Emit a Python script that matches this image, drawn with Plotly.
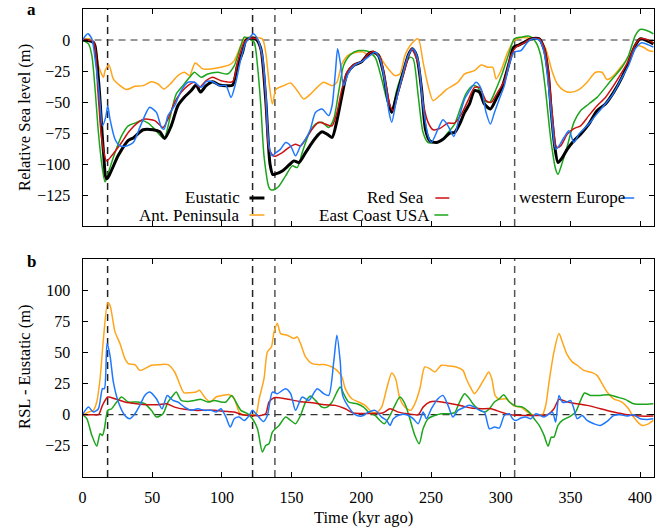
import plotly.graph_objects as go

# ---------------- data (panel a: relative sea level, m) ----------------
eus_t = [0, 4, 7.8, 9, 12, 15, 17.3, 25.7, 32.8, 36.4, 43.5, 50.6, 55.4, 58.9, 63.7, 68.4, 73.2, 78, 81.5,
         84.6, 88.7, 93.4, 98.2, 104, 107.7, 111.2, 114.8, 117.2, 120.7, 124.3, 127.9, 131.4, 134.5, 136.5,
         138.6, 143.3, 148, 151.6, 155.2, 160, 164.7, 169.5, 171.8, 175.4, 179, 182.5, 186.1, 189.7, 194.4,
         200.4, 205.1, 208.7, 212.3, 215.8, 219.4, 221.8, 225.3, 230.1, 233.6, 236.5, 239.6, 243.2, 246,
         249.1, 253.8, 258.6, 263.4, 266.9, 270.5, 274.1, 277.6, 281.2, 284.8, 288.3, 292.6, 296.7, 301.4,
         306.2, 309.3, 313.3, 316.9, 321.6, 327.6, 331.1, 334, 336.3, 338.7, 341.1, 344.2, 347.8, 352.5,
         357.3, 363.2, 369.1, 375.1, 381, 387, 391.7, 396.5, 400, 404.8, 409.5]
eus_v = [0, -0.5, -2, -5, -40, -90, -112, -93, -81, -79, -72.4, -72.4, -74, -79.4, -69, -53, -46, -40.8, -36.3,
         -42, -36.8, -33.6, -36.3, -36.8, -36.3, -20.6, -9.9, -0.4, 1.5, 0.9, -7, -47.6, -100, -108.5,
         -108, -105.6, -101, -97.5, -98.8, -90.8, -82.7, -75.9, -74, -75.9, -78.6, -65, -44.9, -27.4, -20.6,
         -17.4, -11.2, -9.8, -12.5, -26, -50.3, -58.4, -45, -26, -12.5, -7.1, -12.5, -39.5, -71.9,
         -81.3, -82.7, -80, -75.1, -74.6, -67.8, -58.4, -51.6, -40.8, -42.2, -51.6, -55.7, -47.6, -36.8,
         -17.9, -5.8, -3.9, -1.8, 0.9, 0.9, -7.1, -26, -58.4, -85.4, -98.8, -94.8, -88, -81.3,
         -75.9, -67.8, -57, -51.6, -42.2, -30.1, -17.9, -4.5, 0.9, -0.4, -3.1]

ant_t = [0, 5.5, 9, 11.4, 15, 16.2, 19, 22.1, 26.9, 31.6, 37.6, 43.5, 49.4, 54.2, 58.5, 63.7, 68.4, 73.2, 76.8,
         80.8, 86.3, 92.2, 99.3, 105.3, 108.9, 113.6, 117.2, 123.1, 129, 131.4, 133.8, 136.2, 138.6, 141,
         144.5, 149.3, 154, 158.8, 163.5, 168.3, 173, 179, 182.5, 186.1, 190.9, 196.8, 201.6, 205.1, 208.7,
         212.3, 215.8, 219.4, 224.1, 227.7, 231.3, 236, 240.8, 244.3, 247.9, 251.5, 256.2, 261, 265.7,
         269.3, 274.1, 277.6, 281.2, 286, 290.7, 294.3, 296.7, 300.2, 305, 309.7, 314.5, 321.6, 328.7,
         332.3, 337.1, 340.6, 345.4, 350.1, 356.1, 362, 368, 372.7, 376.3, 381, 387, 392.9, 397.7, 402.4,
         406, 409.5]
ant_v = [0, 0.9, -4.5, -20.6, -30.1, -24.7, -20.1, -31.4, -36.8, -40, -37.3, -36.8, -33.6, -35.5, -39.5, -34.6,
         -28.7, -26, -28.7, -18.5, -23.3, -23.3, -22, -20.1, -16.6, -4.5, 1.5, 2.3, 0.9, -9.8, -34.1, -51.6,
         -40, -38.2, -36.8, -34.6, -40.8, -47.6, -43.6, -38.2, -34.1, -36.8, -34.1, -19.3, -12, -9.8, -9.8,
         -12.5, -11.2, -11.2, -17.9, -23.3, -28.7, -27.4, -12.5, -3.1, 0.9, -17.9, -36.8, -48.9, -44.9, -40,
         -36.8, -34.1, -27.4, -26, -24.7, -20.1, -22, -22, -31.4, -24.7, -9.8, -0.4, 1.8, 1.5, -0.4, -7.1,
         -26, -35.5, -40.8, -42.2, -40, -34.1, -26, -26, -31.9, -28.7, -20.6, -12.5, -4.5, -5.8, -8.5, -9.3]

red_t = [0, 7.8, 10.9, 13.8, 17.3, 20.9, 28, 32.8, 39.9, 44.7, 51.8, 57.8, 61.3, 66.1, 70.8, 75.6, 80.2, 83.9,
         88.7, 93.4, 99.3, 107.7, 111.2, 116, 120.7, 125.5, 129, 131.4, 133.8, 137.4, 143.3, 148, 152.8,
         156.4, 160, 164.7, 169.5, 174.2, 179, 182.5, 186.1, 189.7, 194.4, 200.4, 205.1, 208.7, 213.4, 217,
         220.6, 223, 226.5, 231.3, 236, 240.8, 244.3, 247.9, 251.5, 256.2, 262.2, 266.9, 271.7, 276.5,
         281.2, 284.8, 289.5, 293.1, 297.8, 302.6, 307.3, 310.9, 316.9, 321.6, 327.6, 331.1, 334, 337.1,
         340.2, 343, 347.8, 352.5, 357.3, 363.2, 369.1, 375.1, 381, 387, 391.7, 396.5, 400, 404.8, 409.5]
red_v = [0, -1.2, -39.5, -80, -97.5, -93.4, -82.7, -74.6, -66.4, -63.8, -65, -70.5, -63.8, -50.3, -42.2, -36.8,
         -34.1, -38.2, -32.8, -30.1, -32.8, -33.6, -17.9, -1.8, 1.5, 0.4, -15.2, -47.6, -88, -93.8, -90.8,
         -86.7, -84, -85.4, -80, -71.9, -66.4, -67.8, -69.2, -58.4, -39.5, -26, -20.1, -17.4, -11.2, -9.3,
         -13.9, -31.4, -53, -57, -42.2, -23.3, -7.1, -19.3, -50.3, -66.4, -72.4, -71.4, -67, -67, -60,
         -48.9, -38.2, -38.2, -48.9, -50.3, -42.2, -32.8, -12.5, -5.8, -2.3, 0.9, 0.9, -5.8, -23.3, -61,
         -86.7, -85.4, -75.9, -71.4, -69.2, -61, -53, -46.3, -36.8, -26, -16.6, -3.9, 0.9, 0.4, -2.3]

ecu_t = [0, 0.7, 4.3, 6.7, 9, 11.4, 14.3, 16.2, 18.5, 23.3, 28, 32.8, 37.6, 42.3, 47.1, 51.8, 58.5, 62.5, 67.2,
         72, 76.8, 80.3, 85.1, 89.8, 97, 104, 108.9, 113.6, 116, 119.6, 123.1, 125.5, 127.9, 130.2, 133.8,
         135.5, 138, 141, 145.7, 150.5, 154, 157.6, 162.3, 167.1, 171.8, 176.6, 180.2, 183.7, 187.3, 192,
         198, 205.1, 209.9, 214.6, 218.2, 221.8, 225.3, 230.1, 234.8, 237.2, 240.8, 244.3, 247.9, 252.7,
         257.4, 262.2, 266.9, 271.7, 275.3, 280, 283.6, 288.3, 291.9, 296.7, 301.4, 306.2, 309.7, 314.5,
         320.4, 325.2, 328.7, 332.3, 335.9, 339.4, 341.1, 344.2, 347.8, 352.5, 357.3, 363.2, 369.1, 375.1,
         381, 387, 391.7, 396.5, 400, 404.8, 409.5]
ecu_v = [0, -0.4, -3.1, -12.5, -39.5, -74.6, -104, -114.5, -107, -90.8, -77.3, -69.2, -67, -65, -67, -71.9,
         -79.4, -63.8, -43.6, -36.8, -30.1, -26, -30.1, -27.4, -26, -27.4, -20.6, -4.5, 2.3, 0.9, -1.8,
         -20.6, -53, -93.4, -119, -121, -120.4, -117.7, -109.6, -101.5, -102.9, -90.8, -75.9, -67.8, -66.4,
         -70.5, -63.8, -42.2, -20.6, -12, -8.5, -9.3, -13.9, -31.4, -47.6, -57, -40.9, -24.7, -13.9, -15.2,
         -44.9, -74.6, -82.7, -82.7, -81.3, -74.6, -67.8, -53, -42.8, -36.8, -38.2, -48.9, -50.3, -39.5,
         -26, -9.8, 0.9, 2.3, 3.1, -1.8, -12.5, -42.2, -80, -104.2, -108.3, -98.8, -85.4, -66.4, -57, -51.6,
         -46.3, -38.2, -30.1, -22, -12.5, 3.6, 8.5, 7.7, 5]

weu_t = [0, 3.8, 6.7, 9, 11.9, 14.3, 16.6, 18.1, 19.7, 23.3, 26.9, 31.6, 36.4, 41.1, 44.7, 48.2, 53, 56.6, 58.5,
         61.3, 66.1, 70.8, 75.6, 80.3, 85.1, 88.7, 93.4, 98.2, 102.9, 106.5, 110, 113.6, 117.2, 120.7, 122.6,
         125.5, 129, 131.4, 133.8, 136.2, 138.6, 142.1, 145.7, 149.3, 152.8, 156.4, 160, 163.5, 167.1, 171.8,
         176.6, 179, 181.4, 183, 184.9, 187.3, 190.9, 195.6, 201.6, 206.3, 209.9, 213.4, 217, 219.9, 221.8,
         225.3, 230.1, 233.6, 237.2, 240.8, 244.3, 247.9, 250.3, 255, 258.6, 262.2, 266.4, 270.5, 274.1,
         276.5, 282.4, 286, 289.5, 292.6, 295.5, 299, 302.6, 306.2, 309.7, 314.5, 319.2, 322.8, 327.6, 331.1,
         334, 337.1, 339.4, 341.8, 345.4, 349, 352.5, 356.1, 362, 368, 373.9, 379.8, 385.8, 391.7, 396.5,
         401.2, 406, 409.5]
weu_v = [0, 5, 0.9, -15.2, -42.2, -69.2, -62.4, -53, -63.8, -80, -85.4, -85.4, -82.7, -70.5, -61, -54.3, -58.4,
         -70.5, -71.9, -61, -53, -40.8, -34.1, -34.1, -38.2, -33.6, -33.6, -36.8, -36.8, -46.3, -34.1, -15.2,
         -1.8, 3.1, 5, 0.9, -12.5, -42.2, -85.4, -93.4, -91, -88, -82.7, -85.4, -93.4, -85.4, -80, -71.9,
         -58.4, -55.7, -61, -53, -26, -7.1, -17.9, -36.8, -26, -20.1, -16.6, -12.5, -9.8, -15.2, -34.1,
         -58.4, -66.4, -47.6, -26, -12.5, -7.1, -16.6, -53, -77.3, -82.7, -71.9, -64.4, -69.2, -77.8, -61,
         -47.6, -42.8, -34.1, -39.5, -58.4, -67.8, -58.4, -47.6, -36.8, -19.3, -9.8, -8.5, -1.8, 0.9, 0.1,
         -9.8, -34.1, -69.2, -88, -85.4, -78.6, -73.2, -82.7, -75.9, -69.2, -61, -53, -44.9, -32.8, -20.6,
         -7.1, -2.3, -3.9, -5.8]

# ---------------- data (panel b: RSL - Eustatic, m) ----------------
d_ant_t = [0, 4.3, 7.8, 10.2, 12.6, 15, 18.1, 19.7, 23.3, 26.9, 30.4, 32.8, 37.6, 41.1, 44.7, 49.4, 55.4, 61.3,
           66.1, 69.6, 72.7, 76.8, 81.5, 83.9, 87.5, 91.7, 95.8, 100.5, 105.3, 108.9, 112.4, 114.8, 120.7, 124.3,
           126.7, 130.2, 132.6, 135.5, 137.4, 139.8, 142.1, 146.9, 151.6, 154, 156.4, 160, 164.7, 169.5, 174.2,
           179, 182.5, 186.1, 188.5, 193.2, 198, 202.7, 207.5, 211.1, 214.6, 218.2, 221.8, 224.6, 227.7, 231.3,
           235.5, 238.4, 242, 245.5, 249.1, 252.7, 257.4, 262.2, 268.1, 272.9, 275.3, 278.8, 281.2, 284.8,
           288.3, 291.4, 293.6, 296, 299, 303.8, 309.7, 314.5, 319.2, 322.8, 329.9, 332.3, 334.7, 338.2, 341.8,
           344.2, 347.3, 351.3, 354.9, 359.6, 365.6, 369.1, 372.7, 376.3, 381, 387, 391.7, 395.3, 401.2, 406,
           409.5]
d_ant_v = [0, 2.1, 3.5, 10.2, 28.9, 61, 90, 88, 66.5, 57, 45, 41, 40.2, 35.6, 37, 39.7, 40.2, 40.2,
           34.3, 24.9, 17.7, 17.7, 18.2, 19.6, 14.2, 10.2, 14.2, 15.5, 16.1, 12.8, 2.1, 0, 0, 0,
           12.8, 28.9, 50.4, 54.4, 66.5, 73.2, 65.1, 63.8, 61.1, 62.5, 57.1, 46.4, 41, 40.2, 40.2,
           38.3, 35.6, 30.3, 20.9, 12.8, 10.2, 7.5, 2.1, 2.1, 6.1, 20.9, 33.5, 28.9, 12.8, 6.1,
           3.5, 8.8, 20.9, 38.3, 37, 34.3, 39.7, 39.2, 38.3, 35.6, 28.9, 20.9, 16.9, 22.2,
           28.9, 34.3, 28.9, 15.5, 12.3, 12.8, 6.9, 6.1, 2.1, 0, 0, 7.5, 26.3, 50.4, 65.1,
           58.4, 49, 42.4, 39.7, 35.6, 33.8, 31.6, 24.9, 18.2, 12.8, 10.2, 4.8, -1.9, -8.6, -7.3,
           -4.6]

d_red_t = [0, 6.7, 11.4, 14.3, 18.1, 23.3, 30.4, 38.7, 47.1, 54.2, 60.1, 66.1, 73.2, 80.3, 87.5, 94.6, 101.7,
           108.9, 114.8, 120.7, 127.9, 131.4, 133.8, 137.4, 145.7, 155.2, 164.7, 174.2, 181.4, 188.5, 194.4,
           202.7, 209.9, 215.8, 220.6, 226.5, 233.6, 240.8, 244.3, 249.1, 255, 264.5, 271.7, 278.8, 286,
           293.1, 300.2, 307.3, 316.9, 326.5, 333.5, 338.2, 341.8, 347.8, 354.9, 362, 371.5, 381, 390.5, 400,
           409.5]
d_red_v = [0, 0, 0, 7.5, 14.2, 12.8, 10.2, 8.8, 8, 8, 8.8, 6.1, 4.3, 3.5, 3.5, 3.5, 2.7,
           2.1, 0, -0.6, -0.6, 0.8, 10.2, 13.6, 12.8, 10.7, 9.6, 8, 7.5, 4.8, 1.3,
           1, 1, 1.6, 4.8, 2.1, 0.8, 0, 6.1, 10.2, 10.7, 8.8, 7.2, 5.3, 4.8,
           4.8, 2.1, 0, -0.6, -0.6, 0, 4.8, 12.3, 10.2, 8.8, 7.5, 4.8, 2.1, 0, -1.1,
           -1.1]

d_ecu_t = [0, 0.7, 3.1, 6.7, 10.2, 12.6, 14.3, 15.7, 18.1, 20.9, 24.5, 28, 32.8, 38.7, 44.7, 49.4, 53, 57.8,
           61.3, 64.9, 67.2, 70.8, 75.6, 80.3, 85.1, 89.8, 94.6, 99.3, 102.9, 107, 110, 113.6, 118.4, 121.9,
           125.5, 129, 131.4, 133.8, 136.2, 141, 145.7, 149.3, 152.8, 156.4, 160, 163.5, 167.1, 171.8, 175.4,
           179, 182.5, 184.9, 187.3, 190.9, 196.8, 201.6, 205.1, 209.9, 213.4, 216.5, 220.6, 224.1, 227.7,
           231.3, 234.8, 238.4, 241.5, 244.3, 247.9, 252.7, 257.4, 262.2, 266.9, 270.5, 274.1, 277.6, 280,
           283.6, 288.3, 291.9, 295.5, 299, 302.1, 306.2, 310.9, 315.7, 320.4, 324, 327.6, 331.1, 334, 336.3,
           338.2, 341.1, 344.2, 350.1, 353.7, 357.3, 360.1, 364.4, 371.5, 377.5, 383.4, 389.3, 395.3, 402.4,
           409.5]
d_ecu_v = [0, -0.6, -3.2, -16.6, -25.2, -15.3, -16.6, -11.3, 3.5, 4.8, 10.2, 14.2, 10.2, 10.2, 8.8, 3.5, -1.9, 0.8,
           10.2, 15.5, 18.2, 11.5, 10.7, 11.5, 12.3, 10.2, 11.5, 10.2, 10.2, 15.5, 10.2, 3.5, 0.8, -3.2,
           -11.3, -30, -24.7, -23.3, -13.9, -8.6, -1.9, -4.6, -7.2, -0.6, 10.2, 15, 11.5, 6.1, 6.1,
           10.2, 18.2, 22.2, 16.9, 10.2, 8.8, 6.1, 2.1, -0.6, -4.6, -7.2, -0.6, 7.5, 14.2,
           8.8, -3.2, -16.6, -23.3, -11.3, -3.2, -0.6, 0.8, 0.8, 1.6, 10.2, 16.9, 12.8, 8.8,
           4.8, 2.1, 4.8, 10.2, 12.8, 16.1, 10.2, 6.9, 6.1, 2.1, -3.2, -8.6, -16.6, -25.2, -18,
           -18, -8.6, -4.6, -1.1, 2.1, 11.5, 17.4, 15.5, 15.5, 16.1, 14.2, 12.3, 8.8, 8.3,
           8.8]

d_weu_t = [0, 4.3, 7.8, 11.4, 14.3, 15.7, 17.6, 19.7, 22.1, 25.7, 30.4, 34, 37.6, 41.1, 44.7, 48.2, 53, 57, 60.8,
           64.9, 68.4, 73.2, 78, 82.7, 87.5, 92.2, 95.8, 99.3, 102.9, 106, 108.9, 112.4, 116, 119.6, 121.9,
           125.5, 129.8, 132.6, 136.2, 139.8, 145.7, 149.3, 152.8, 157.6, 162.3, 168.3, 173, 176.6, 180.2,
           182.5, 184.9, 186.6, 190.9, 195.6, 200.4, 205.1, 209.9, 214.6, 218.2, 220.6, 223, 227.7, 232.5,
           237.2, 240.8, 244.3, 246.7, 250.3, 255, 258.6, 262.2, 265.7, 269.3, 274.1, 277.6, 281.2, 284.8,
           288.3, 291.9, 295.5, 299, 302.6, 306.2, 308.5, 310.9, 314.5, 318.1, 321.6, 325.2, 327.6, 331.1,
           334, 337.1, 339.4, 341.8, 344.2, 347.8, 350.1, 352.5, 354.9, 358.5, 362, 366.8, 371.5, 376.3, 381,
           385.8, 390.5, 395.3, 400, 404.8, 409.5]
d_weu_v = [0, 6.1, 2.1, 4.8, 20.9, 20.9, 57.1, 47.7, 26.3, 10.2, -0.6, -3.2, 0.8, 7.5, 15.5, 18.2, 12.8, 4.8, 15.5,
           11.5, 10.2, 6.1, 3.5, 4.8, 3.5, 3.5, 2.1, 4.8, -1.9, -9.9, -3.2, -1.9, -4.6, -0.6, 3.5,
           -0.6, -5.4, -0.6, 18.2, 16.9, 20.9, 16.9, 3.5, 14.2, 11.5, 20.9, 16.9, 15.5, 42.4,
           63.8, 42.4, 15.5, 6.1, 0, -1.1, 2.1, 3.5, -1.9, -4.6, -8.6, -3.2, 0, 0,
           -3.2, -7.2, 2.1, -3.2, 4.8, 12.8, 15.5, 7.5, -1.9, 3.5, 6.1, 7.5, 6.1, 3.5,
           2.1, -11.3, -9.9, -10.7, -0.6, 0.8, -3.2, -4.6, -2.7, -1.9, -3.2, 0.8, 0, -1.9,
           0, 2.1, -5.9, 15.5, 10.2, 10.2, 11.5, 4.8, -3.2, -0.6, -4.6, -7.2, -8.6, -5.4, -0.6,
           0, -1.1, 0, -3.2, -3.8, -3.2]

# vertical reference lines (kyr) and their colours
vlines = [18, 122, 138, 310]
vline_colors = ["#222222", "#222222", "#555555", "#555555"]

names = ["Eustatic", "Ant. Peninsula", "Red Sea", "East Coast USA", "western Europe"]
colors = {"Eustatic": "#000000", "Ant. Peninsula": "#FFA51A", "Red Sea": "#CC1111",
          "East Coast USA": "#1CA51C", "western Europe": "#1E78FF"}

W, H = 662, 530
FONT = "Times New Roman, Liberation Serif, DejaVu Serif, serif"


def px(x):
    return x / W


def py(y):
    return 1 - y / H


fig = go.Figure()

series_a = [("Eustatic", eus_t, eus_v, 3.0), ("Ant. Peninsula", ant_t, ant_v, 1.5),
            ("Red Sea", red_t, red_v, 1.5), ("East Coast USA", ecu_t, ecu_v, 1.5),
            ("western Europe", weu_t, weu_v, 1.5)]
for name, t, v, w in [series_a[1], series_a[3], series_a[0], series_a[2], series_a[4]]:
    fig.add_trace(go.Scatter(x=t, y=v, mode="lines", name=name, showlegend=False,
                             line=dict(color=colors[name], width=w, shape="spline", smoothing=0.7),
                             xaxis="x", yaxis="y", hoverinfo="skip"))

series_b = [("Ant. Peninsula", d_ant_t, d_ant_v), ("East Coast USA", d_ecu_t, d_ecu_v),
            ("Red Sea", d_red_t, d_red_v), ("western Europe", d_weu_t, d_weu_v)]
for name, t, v in series_b:
    fig.add_trace(go.Scatter(x=t, y=v, mode="lines", name=name, showlegend=False,
                             line=dict(color=colors[name], width=1.5, shape="spline", smoothing=0.7),
                             xaxis="x2", yaxis="y2", hoverinfo="skip"))

shapes = []
for xr, yr in [("x", "y"), ("x2", "y2")]:
    for xv, c in zip(vlines, vline_colors):
        shapes.append(dict(type="line", xref=xr, yref=yr + " domain", x0=xv, x1=xv, y0=0, y1=1,
                           line=dict(color=c, width=1.5, dash="7px,5px"), layer="below"))
    shapes.append(dict(type="line", xref=xr + " domain", yref=yr, x0=0, x1=1, y0=0, y1=0,
                       line=dict(color="#333333", width=1.2, dash="7px,5px"), layer="below"))

# gnuplot-style legend in panel a: text right-aligned, short sample line to the right
legend_layout = [("Eustatic", 239, 198, 247, 262), ("Ant. Peninsula", 239, 215, 247, 262),
                 ("Red Sea", 425, 198, 434, 448), ("East Coast USA", 431, 215, 433, 447),
                 ("western Europe", 627, 198, 621, 634)]
annotations = []
for name, xr_, yy, s0, s1 in legend_layout:
    annotations.append(dict(text=name, xref="paper", yref="paper", x=px(xr_), y=py(yy),
                            xanchor="right", yanchor="middle", showarrow=False,
                            font=dict(family=FONT, size=17, color="black")))
    shapes.append(dict(type="line", xref="paper", yref="paper", x0=px(s0), x1=px(s1), y0=py(yy), y1=py(yy),
                       line=dict(color=colors[name], width=3 if name == "Eustatic" else 1.5)))

annotations += [
    dict(text="Relative Sea level (m)", xref="paper", yref="paper", x=px(20), y=py(117), textangle=-90,
         showarrow=False, xanchor="center", yanchor="middle", font=dict(family=FONT, size=16.5, color="black")),
    dict(text="RSL - Eustatic (m)", xref="paper", yref="paper", x=px(20), y=py(366), textangle=-90,
         showarrow=False, xanchor="center", yanchor="middle", font=dict(family=FONT, size=16.5, color="black")),
    dict(text="Time (kyr ago)", xref="paper", yref="paper", x=px(362), y=py(517),
         showarrow=False, xanchor="center", yanchor="middle", font=dict(family=FONT, size=16.5, color="black")),
    dict(text="<b>a</b>", xref="paper", yref="paper", x=px(28), y=py(10),
         showarrow=False, xanchor="center", yanchor="middle", font=dict(family=FONT, size=17, color="black")),
    dict(text="<b>b</b>", xref="paper", yref="paper", x=px(28), y=py(261),
         showarrow=False, xanchor="center", yanchor="middle", font=dict(family=FONT, size=17, color="black")),
]

xticks = [0, 50, 100, 150, 200, 250, 300, 350, 400]
common = dict(showline=True, linecolor="black", linewidth=1, mirror="ticks", ticks="inside", ticklen=5,
              tickcolor="black", showgrid=False, zeroline=False,
              tickfont=dict(family=FONT, size=16, color="black"))

fig.update_layout(
    width=W, height=H, margin=dict(l=0, r=0, t=0, b=0),
    paper_bgcolor="white", plot_bgcolor="white", showlegend=False,
    font=dict(family=FONT, size=16, color="black"),
    xaxis=dict(domain=[px(79), px(654)], range=[0, 410], anchor="y", tickvals=xticks,
               showticklabels=False, **common),
    yaxis=dict(domain=[py(226), py(9)], range=[-150, 25], anchor="x",
               tickvals=[-125, -100, -75, -50, -25, 0], ticklabelstandoff=8, **common),
    xaxis2=dict(domain=[px(79), px(654)], range=[0, 410], anchor="y2", tickvals=xticks,
                ticklabelstandoff=6, **common),
    yaxis2=dict(domain=[py(477), py(259)], range=[-50, 125], anchor="x2",
                tickvals=[-25, 0, 25, 50, 75, 100], ticklabelstandoff=8, **common),
    shapes=shapes, annotations=annotations,
)

fig.write_html("out.html")
